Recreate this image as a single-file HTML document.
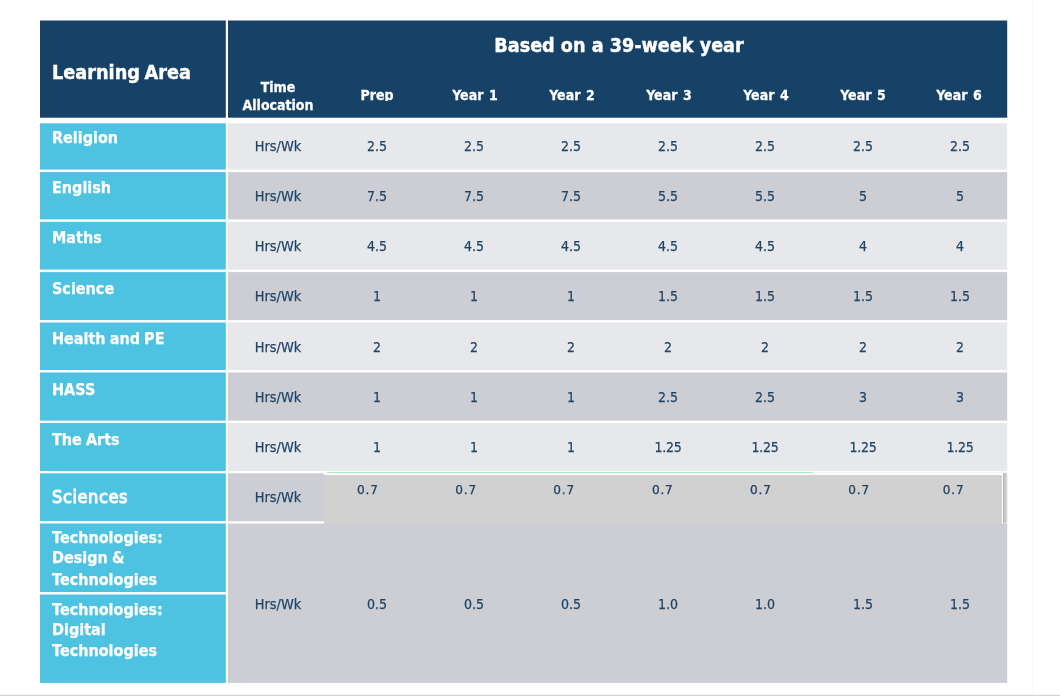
<!DOCTYPE html>
<html><head><meta charset="utf-8"><title>Time Allocation</title>
<style>
html,body{margin:0;padding:0;background:#fff;}
body{width:1060px;height:697px;position:relative;overflow:hidden;font-family:"DejaVu Sans","Liberation Sans",sans-serif;}
.b{position:absolute;}
.navy{background:#164267;}
.cy{background:#4dc3e1;}
.l{background:#e7e8ec;}
.d{background:#cdced3;}
.t{position:absolute;white-space:nowrap;color:#1f4466;font-size:14.4px;line-height:16px;transform:translateX(-50%) scaleX(0.9);text-align:center;-webkit-text-stroke:0.25px #1f4466;}
.n{font-size:14px;}
.h{position:absolute;white-space:nowrap;color:#fff;font-weight:bold;font-size:14px;line-height:15px;transform:translateX(-50%) scaleX(0.9);text-align:center;-webkit-text-stroke:0.3px #fff;}
.la{position:absolute;left:52px;transform:scaleX(0.9);transform-origin:0 0;color:#fff;font-weight:bold;font-size:16px;line-height:21px;white-space:nowrap;word-spacing:-1px;-webkit-text-stroke:0.25px #fff;}
.v{position:absolute;white-space:nowrap;color:#1f4466;font-family:"DejaVu Sans",sans-serif;font-size:12.1px;line-height:14px;letter-spacing:0.8px;transform:translateX(-50%);margin-left:0.7px;-webkit-text-stroke:0.25px #1d3f62;color:#1d3f62;}
</style></head><body>

<svg class="b" style="left:0;top:0" width="1060" height="697" viewBox="0 0 1060 697">
<rect x="40" y="20.5" width="185.8" height="97.2" fill="#164267"/>
<rect x="228" y="20.5" width="779.2" height="97.2" fill="#164267"/>
<rect x="40" y="123.3" width="185.8" height="46.3" fill="#4dc3e1"/>
<rect x="228" y="123.3" width="779.2" height="46.3" fill="#e7e8ec"/>
<rect x="40" y="172.1" width="185.8" height="47.3" fill="#4dc3e1"/>
<rect x="228" y="172.1" width="779.2" height="47.3" fill="#cdced3"/>
<rect x="40" y="221.8" width="185.8" height="47.8" fill="#4dc3e1"/>
<rect x="228" y="221.8" width="779.2" height="47.8" fill="#e7e8ec"/>
<rect x="40" y="272.1" width="185.8" height="48.0" fill="#4dc3e1"/>
<rect x="228" y="272.1" width="779.2" height="48.0" fill="#cdced3"/>
<rect x="40" y="322.5" width="185.8" height="47.5" fill="#4dc3e1"/>
<rect x="228" y="322.5" width="779.2" height="47.5" fill="#e7e8ec"/>
<rect x="40" y="372.5" width="185.8" height="48.1" fill="#4dc3e1"/>
<rect x="228" y="372.5" width="779.2" height="48.1" fill="#cdced3"/>
<rect x="40" y="423.0" width="185.8" height="48.0" fill="#4dc3e1"/>
<rect x="228" y="423.0" width="779.2" height="48.0" fill="#e7e8ec"/>
<rect x="40" y="473.3" width="185.8" height="47.7" fill="#4dc3e1"/>
<rect x="228" y="473.3" width="779.2" height="48" fill="#cdced3"/>
<rect x="40" y="523.5" width="185.8" height="68.6" fill="#4dc3e1"/>
<rect x="40" y="594.5" width="185.8" height="88.4" fill="#4dc3e1"/>
<rect x="228" y="523.6" width="779.2" height="159.3" fill="#cdced3"/>
<rect x="324" y="470.9" width="683.3" height="4.3" fill="#ffffff"/>
<rect x="326" y="471.9" width="2" height="1.1" fill="#d2f7d9"/>
<rect x="328" y="471.9" width="485" height="1.1" fill="#a6efb6"/>
<rect x="813" y="471.9" width="194" height="1.1" fill="#f3f4f6"/>
<rect x="1003.1" y="473" width="0.9" height="50.4" fill="#a9aaae"/>
<rect x="1004" y="473" width="2.2" height="50.4" fill="#c6c7cb"/>
<rect x="1006.2" y="473" width="1" height="50.4" fill="#dcdde0"/>
<rect x="1001.8" y="473" width="1.3" height="50.4" fill="#fff"/>
<rect x="324" y="475.1" width="677.8" height="48.3" fill="#d1d1d1"/>
<rect x="324" y="522.8" width="677.8" height="0.6" fill="#bcbcbc"/>
<rect x="0" y="694.8" width="1060" height="1.2" fill="#d4d4d4"/>
<rect x="1032" y="0" width="1" height="694" fill="#f8f8f8"/>
</svg>
<div class="la" style="top:60.6px;font-size:19.7px;line-height:24px;word-spacing:-1.8px;-webkit-text-stroke:0.45px #fff">Learning Area</div>
<div class="h" style="left:618.7px;top:33.7px;font-size:19.6px;line-height:24px;-webkit-text-stroke:0.45px #fff">Based on a 39-week year</div>
<div class="h" style="left:277.5px;top:78px;line-height:18px">Time<br>Allocation</div>
<div class="h" style="left:376.9px;top:88.2px;height:13.2px;overflow:hidden;word-spacing:1.5px">Prep</div>
<div class="h" style="left:474.8px;top:88.2px;height:13.2px;overflow:hidden;word-spacing:1.5px">Year 1</div>
<div class="h" style="left:571.7px;top:88.2px;height:13.2px;overflow:hidden;word-spacing:1.5px">Year 2</div>
<div class="h" style="left:668.8px;top:88.2px;height:13.2px;overflow:hidden;word-spacing:1.5px">Year 3</div>
<div class="h" style="left:765.9px;top:88.2px;height:13.2px;overflow:hidden;word-spacing:1.5px">Year 4</div>
<div class="h" style="left:863.2px;top:88.2px;height:13.2px;overflow:hidden;word-spacing:1.5px">Year 5</div>
<div class="h" style="left:959.4px;top:88.2px;height:13.2px;overflow:hidden;word-spacing:1.5px">Year 6</div>
<div class="la" style="top:126.86px">Religion</div>
<div class="t" style="left:277.6px;top:137.82px">Hrs/Wk</div>
<div class="t n" style="left:376.9px;top:137.82px">2.5</div>
<div class="t n" style="left:474.1px;top:137.82px">2.5</div>
<div class="t n" style="left:571.0px;top:137.82px">2.5</div>
<div class="t n" style="left:668.1px;top:137.82px">2.5</div>
<div class="t n" style="left:765.2px;top:137.82px">2.5</div>
<div class="t n" style="left:862.5px;top:137.82px">2.5</div>
<div class="t n" style="left:960.2px;top:137.82px">2.5</div>
<div class="la" style="top:177.19px">English</div>
<div class="t" style="left:277.6px;top:188.04px">Hrs/Wk</div>
<div class="t n" style="left:376.9px;top:188.04px">7.5</div>
<div class="t n" style="left:474.1px;top:188.04px">7.5</div>
<div class="t n" style="left:571.0px;top:188.04px">7.5</div>
<div class="t n" style="left:668.1px;top:188.04px">5.5</div>
<div class="t n" style="left:765.2px;top:188.04px">5.5</div>
<div class="t n" style="left:862.5px;top:188.04px">5</div>
<div class="t n" style="left:960.2px;top:188.04px">5</div>
<div class="la" style="top:226.92px">Maths</div>
<div class="t" style="left:277.6px;top:238.26px">Hrs/Wk</div>
<div class="t n" style="left:376.9px;top:238.26px">4.5</div>
<div class="t n" style="left:474.1px;top:238.26px">4.5</div>
<div class="t n" style="left:571.0px;top:238.26px">4.5</div>
<div class="t n" style="left:668.1px;top:238.26px">4.5</div>
<div class="t n" style="left:765.2px;top:238.26px">4.5</div>
<div class="t n" style="left:862.5px;top:238.26px">4</div>
<div class="t n" style="left:960.2px;top:238.26px">4</div>
<div class="la" style="top:277.85px">Science</div>
<div class="t" style="left:277.6px;top:288.48px">Hrs/Wk</div>
<div class="t n" style="left:376.9px;top:288.48px">1</div>
<div class="t n" style="left:474.1px;top:288.48px">1</div>
<div class="t n" style="left:571.0px;top:288.48px">1</div>
<div class="t n" style="left:668.1px;top:288.48px">1.5</div>
<div class="t n" style="left:765.2px;top:288.48px">1.5</div>
<div class="t n" style="left:862.5px;top:288.48px">1.5</div>
<div class="t n" style="left:960.2px;top:288.48px">1.5</div>
<div class="la" style="top:328.18px">Health and PE</div>
<div class="t" style="left:277.6px;top:338.70px">Hrs/Wk</div>
<div class="t n" style="left:376.9px;top:338.70px">2</div>
<div class="t n" style="left:474.1px;top:338.70px">2</div>
<div class="t n" style="left:571.0px;top:338.70px">2</div>
<div class="t n" style="left:668.1px;top:338.70px">2</div>
<div class="t n" style="left:765.2px;top:338.70px">2</div>
<div class="t n" style="left:862.5px;top:338.70px">2</div>
<div class="t n" style="left:960.2px;top:338.70px">2</div>
<div class="la" style="top:378.51px">HASS</div>
<div class="t" style="left:277.6px;top:388.92px">Hrs/Wk</div>
<div class="t n" style="left:376.9px;top:388.92px">1</div>
<div class="t n" style="left:474.1px;top:388.92px">1</div>
<div class="t n" style="left:571.0px;top:388.92px">1</div>
<div class="t n" style="left:668.1px;top:388.92px">2.5</div>
<div class="t n" style="left:765.2px;top:388.92px">2.5</div>
<div class="t n" style="left:862.5px;top:388.92px">3</div>
<div class="t n" style="left:960.2px;top:388.92px">3</div>
<div class="la" style="top:428.84px">The Arts</div>
<div class="t" style="left:277.6px;top:439.14px">Hrs/Wk</div>
<div class="t n" style="left:376.9px;top:439.14px">1</div>
<div class="t n" style="left:474.1px;top:439.14px">1</div>
<div class="t n" style="left:571.0px;top:439.14px">1</div>
<div class="t n" style="left:668.1px;top:439.14px;letter-spacing:-0.35px">1.25</div>
<div class="t n" style="left:765.2px;top:439.14px;letter-spacing:-0.35px">1.25</div>
<div class="t n" style="left:862.5px;top:439.14px;letter-spacing:-0.35px">1.25</div>
<div class="t n" style="left:960.2px;top:439.14px;letter-spacing:-0.35px">1.25</div>
<div class="la" style="top:484.97px;font-weight:normal;font-size:18px;line-height:24px;letter-spacing:0.68px;-webkit-text-stroke:1.15px #fff">Sciences</div>
<div class="t" style="left:277.6px;top:488.92px">Hrs/Wk</div>
<div class="la" style="top:527.26px">Technologies:</div>
<div class="la" style="top:547.16px">Design &amp;</div>
<div class="la" style="top:568.66px">Technologies</div>
<div class="la" style="top:598.86px">Technologies:</div>
<div class="la" style="top:618.76px">Digital</div>
<div class="la" style="top:640.06px">Technologies</div>
<div class="t" style="left:277.6px;top:596.27px">Hrs/Wk</div>
<div class="t n" style="left:376.9px;top:596.27px">0.5</div>
<div class="t n" style="left:474.1px;top:596.27px">0.5</div>
<div class="t n" style="left:571.0px;top:596.27px">0.5</div>
<div class="t n" style="left:668.1px;top:596.27px">1.0</div>
<div class="t n" style="left:765.2px;top:596.27px">1.0</div>
<div class="t n" style="left:862.5px;top:596.27px">1.5</div>
<div class="t n" style="left:960.2px;top:596.27px">1.5</div>
<div class="v" style="left:367.25px;top:482.90px">0.7</div>
<div class="v" style="left:465.4px;top:482.90px">0.7</div>
<div class="v" style="left:563.5px;top:482.90px">0.7</div>
<div class="v" style="left:662.1px;top:482.90px">0.7</div>
<div class="v" style="left:760.25px;top:482.90px">0.7</div>
<div class="v" style="left:858.5px;top:482.90px">0.7</div>
<div class="v" style="left:952.9px;top:482.90px">0.7</div>
</body></html>
